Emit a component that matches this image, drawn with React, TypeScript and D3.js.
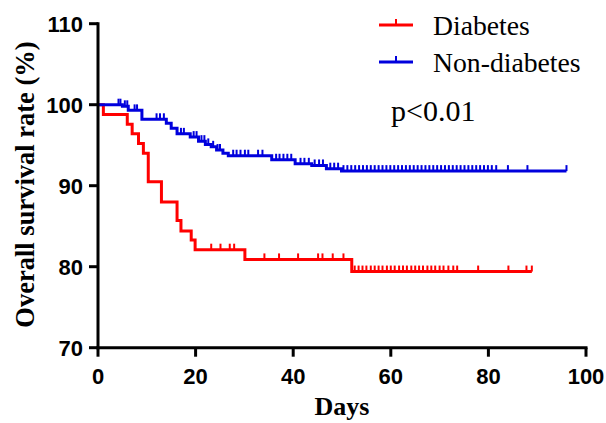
// Kaplan-Meier overall survival, diabetes vs non-diabetes, with censor ticks.
import React, { useEffect, useRef } from 'react';
import * as d3 from 'd3';

const WIDTH = 606;
const HEIGHT = 423;
const LEFT = 98;
const RIGHT = 586;
const TOP = 23.7;
const BOTTOM = 347.7;

const X_TICKS = [0, 20, 40, 60, 80, 100];
const Y_TICKS = [70, 80, 90, 100, 110];

// [day, survival % after the drop]
const diabetesSteps: [number, number][] = [
  [0, 100], [1.1, 98.8], [6.0, 97.6], [7.0, 96.4], [8.3, 95.2], [9.3, 94.0],
  [10.3, 90.5], [13.0, 88.0], [16.2, 85.7], [17.0, 84.4], [19.1, 83.3],
  [19.9, 82.1], [30.1, 80.9], [52.0, 79.4],
];
const diabetesEnd = 88.9;
const diabetesCensored = [
  23.2, 25.1, 27.0, 27.9, 34.1, 37.1, 41.0, 45.1, 46.0, 48.1, 50.3,
  52.6, 53.4, 54.2, 55.0, 55.9, 56.7, 57.5, 58.3, 59.2, 60.0, 60.8, 61.7,
  62.5, 63.3, 64.2, 65.0, 65.8, 66.6, 67.5, 68.3, 69.1, 70.0, 70.8, 71.8,
  72.8, 73.6, 77.9, 84.1, 87.8, 88.9,
];

const nonDiabetesSteps: [number, number][] = [
  [0, 100], [5.0, 99.8], [6.2, 99.3], [9.0, 98.2], [14.0, 97.7], [15.0, 97.1],
  [16.2, 96.4], [18.9, 96.0], [20.6, 95.5], [22.0, 95.1], [23.2, 94.8],
  [24.3, 94.4], [25.6, 94.0], [26.7, 93.7], [35.6, 93.2], [40.4, 92.7],
  [43.8, 92.5], [46.8, 92.1], [49.9, 91.8],
];
const nonDiabetesEnd = 96.0;
const nonDiabetesCensored = [
  4.2, 4.6, 5.5, 6.0, 7.5, 8.0, 12.0, 12.7, 13.5, 17.0, 17.6, 19.6, 20.2,
  21.2, 21.8, 22.6, 23.6, 24.5, 25.0, 27.7, 28.4, 29.2, 30.1, 30.8, 32.8,
  33.7, 36.5, 37.2, 38.0, 38.8, 39.6, 41.5, 42.3, 43.2, 44.4, 45.3, 46.1,
  47.6, 48.4, 49.2, 50.3, 51.1, 51.9, 52.7, 53.5, 54.3, 55.1, 55.9, 56.7,
  57.5, 58.3, 59.1, 59.9, 60.7, 61.5, 62.3, 63.1, 63.9, 64.7, 65.5, 66.3,
  67.1, 67.9, 68.7, 69.5, 70.3, 71.1, 71.9, 72.7, 73.5, 74.3, 75.1, 75.9,
  76.7, 77.5, 78.3, 79.1, 79.9, 80.7, 81.6, 84.0, 88.0, 96.0,
];

const series = [
  { name: 'Diabetes', color: '#ff0000', steps: diabetesSteps, end: diabetesEnd, censored: diabetesCensored },
  { name: 'Non-diabetes', color: '#0000dd', steps: nonDiabetesSteps, end: nonDiabetesEnd, censored: nonDiabetesCensored },
];

const survivalAt = (steps: [number, number][], t: number) => {
  let s = steps[0][1];
  for (const [day, v] of steps) if (day <= t) s = v;
  return s;
};

export default function App() {
  const svgRef = useRef<SVGSVGElement>(null);

  useEffect(() => {
    const svg = d3.select(svgRef.current).attr('width', WIDTH).attr('height', HEIGHT);
    svg.selectAll('*').remove();
    svg.append('rect').attr('width', '100%').attr('height', '100%').attr('fill', 'white');

    const x = d3.scaleLinear().domain([0, 100]).range([LEFT, RIGHT]);
    const y = d3.scaleLinear().domain([70, 110]).range([BOTTOM, TOP]);

    const line = d3
      .line<[number, number]>()
      .x((d) => x(d[0]))
      .y((d) => y(d[1]))
      .curve(d3.curveStepAfter);

    series.forEach((s) => {
      const pts: [number, number][] = [...s.steps, [s.end, s.steps[s.steps.length - 1][1]]];
      svg
        .append('path')
        .datum(pts)
        .attr('fill', 'none')
        .attr('stroke', s.color)
        .attr('stroke-width', 3)
        .attr('d', line);
      svg
        .append('g')
        .selectAll('line')
        .data(s.censored)
        .enter()
        .append('line')
        .attr('x1', (t) => x(t))
        .attr('x2', (t) => x(t))
        .attr('y1', (t) => y(survivalAt(s.steps, t)))
        .attr('y2', (t) => y(survivalAt(s.steps, t)) - 6)
        .attr('stroke', s.color)
        .attr('stroke-width', 2);
    });

    // Axes
    const axisColor = '#000';
    svg
      .append('line')
      .attr('x1', LEFT).attr('x2', LEFT)
      .attr('y1', TOP).attr('y2', BOTTOM)
      .attr('stroke', axisColor).attr('stroke-width', 3).attr('stroke-linecap', 'square');
    svg
      .append('line')
      .attr('x1', LEFT).attr('x2', RIGHT)
      .attr('y1', BOTTOM).attr('y2', BOTTOM)
      .attr('stroke', axisColor).attr('stroke-width', 3).attr('stroke-linecap', 'square');

    const yt = svg.append('g');
    Y_TICKS.forEach((v) => {
      yt.append('line')
        .attr('x1', LEFT - 9).attr('x2', LEFT)
        .attr('y1', y(v)).attr('y2', y(v))
        .attr('stroke', axisColor).attr('stroke-width', 3);
      yt.append('text')
        .attr('x', LEFT - 15)
        .attr('y', y(v) + 8)
        .attr('text-anchor', 'end')
        .attr('font-family', 'Liberation Sans, Arial, sans-serif')
        .attr('font-weight', 'bold')
        .attr('font-size', '22px')
        .text(v);
    });
    const xt = svg.append('g');
    X_TICKS.forEach((v) => {
      xt.append('line')
        .attr('x1', x(v)).attr('x2', x(v))
        .attr('y1', BOTTOM).attr('y2', BOTTOM + 9)
        .attr('stroke', axisColor).attr('stroke-width', 3);
      xt.append('text')
        .attr('x', x(v))
        .attr('y', 384)
        .attr('text-anchor', 'middle')
        .attr('font-family', 'Liberation Sans, Arial, sans-serif')
        .attr('font-weight', 'bold')
        .attr('font-size', '22px')
        .text(v);
    });

    const serif = 'Liberation Serif, Times New Roman, serif';
    svg
      .append('text')
      .attr('x', 342)
      .attr('y', 415)
      .attr('text-anchor', 'middle')
      .attr('font-family', serif)
      .attr('font-weight', 'bold')
      .attr('font-size', '26px')
      .text('Days');
    svg
      .append('text')
      .attr('transform', `translate(34,${(32 + 337) / 2}) rotate(-90)`)
      .attr('text-anchor', 'middle')
      .attr('font-family', serif)
      .attr('font-weight', 'bold')
      .attr('font-size', '26.5px')
      .text('Overall survival rate (%)');

    // Legend
    series.forEach((s, i) => {
      const ly = 25 + i * 37;
      svg.append('line')
        .attr('x1', 379).attr('x2', 413).attr('y1', ly).attr('y2', ly)
        .attr('stroke', s.color).attr('stroke-width', 3);
      svg.append('line')
        .attr('x1', 396).attr('x2', 396).attr('y1', ly).attr('y2', ly - 6)
        .attr('stroke', s.color).attr('stroke-width', 2);
      svg.append('text')
        .attr('x', 433)
        .attr('y', ly + 10)
        .attr('font-family', serif)
        .attr('font-size', '27.7px')
        .text(s.name);
    });
    svg.append('text')
      .attr('x', 391)
      .attr('y', 121)
      .attr('font-family', serif)
      .attr('font-size', '30px')
      .text('p<0.01');
  }, []);

  return <svg ref={svgRef} style={{ position: 'absolute', left: 0, top: 0, display: 'block' }} />;
}
